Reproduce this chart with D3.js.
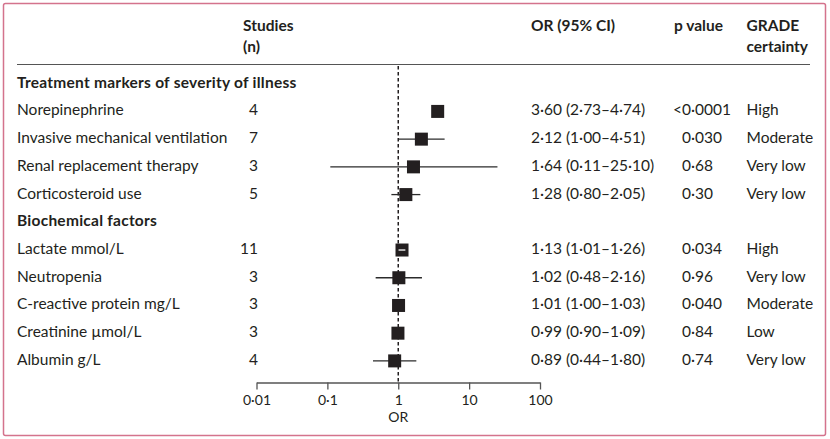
<!DOCTYPE html>
<html>
<head>
<meta charset="utf-8">
<script src="https://cdn.jsdelivr.net/npm/d3@7"></script>
<style>
  body { margin: 0; background: #fff; }
  text { font-family: Lato, "Open Sans", sans-serif; fill: #231f20; }
</style>
</head>
<body>
<svg id="chart" width="830" height="439"></svg>
<script>
// rows of the forest plot (studies null = section header)
var labels = ["Treatment markers of severity of illness", "Norepinephrine", "Invasive mechanical ventilation",
  "Renal replacement therapy", "Corticosteroid use", "Biochemical factors", "Lactate mmol/L", "Neutropenia",
  "C-reactive protein mg/L", "Creatinine µmol/L", "Albumin g/L"];
var studies = [null, 4, 7, 3, 5, null, 11, 3, 3, 3, 4];
var or = [null, 3.60, 2.12, 1.64, 1.28, null, 1.13, 1.02, 1.01, 0.99, 0.89];
var lo = [null, 2.73, 1.00, 0.11, 0.80, null, 1.01, 0.48, 1.00, 0.90, 0.44];
var hi = [null, 4.74, 4.51, 25.10, 2.05, null, 1.26, 2.16, 1.03, 1.09, 1.80];
var orText = [null, "3·60 (2·73–4·74)", "2·12 (1·00–4·51)", "1·64 (0·11–25·10)", "1·28 (0·80–2·05)", null,
  "1·13 (1·01–1·26)", "1·02 (0·48–2·16)", "1·01 (1·00–1·03)", "0·99 (0·90–1·09)", "0·89 (0·44–1·80)"];
var pText = [null, "<0·0001", "0·030", "0·68", "0·30", null, "0·034", "0·96", "0·040", "0·84", "0·74"];
var grade = [null, "High", "Moderate", "Very low", "Very low", null, "High", "Very low", "Moderate", "Low", "Very low"];
var whiteCI = ["Lactate mmol/L"]; // CI drawn in white inside the square
var ticks = [0.01, 0.1, 1, 10, 100];
var tickLabels = ["0·01", "0·1", "1", "10", "100"];

var svg = d3.select("#chart");
var fs = 15.5;

// frame
svg.append("rect").attr("x", 3.5).attr("y", 3.5).attr("width", 822).attr("height", 432)
  .attr("rx", 2).attr("fill", "none").attr("stroke", "#d4738d").attr("stroke-width", 1.5);

var x = d3.scaleLog().domain([0.01, 100]).range([256.5, 540]);
var y = d3.scaleLinear().domain([0, 10]).range([87.7, 364.9]); // baselines

// headers
var head = svg.append("g").attr("font-weight", "bold").attr("font-size", fs);
head.append("text").attr("x", 243).attr("y", 31).text("Studies");
head.append("text").attr("x", 243).attr("y", 52).text("(n)");
head.append("text").attr("x", 531).attr("y", 31).text("OR (95% CI)");
head.append("text").attr("x", 674).attr("y", 31).text("p value");
head.append("text").attr("x", 746.5).attr("y", 31).text("GRADE");
head.append("text").attr("x", 746.5).attr("y", 52).text("certainty");

svg.append("line").attr("x1", 17).attr("x2", 810).attr("y1", 64.5).attr("y2", 64.5)
  .attr("stroke", "#555").attr("stroke-width", 1.2);

// reference line at OR = 1
svg.append("line").attr("x1", x(1)).attr("x2", x(1)).attr("y1", 66).attr("y2", 382.5)
  .attr("stroke", "#231f20").attr("stroke-width", 1.5).attr("stroke-dasharray", "3.5,2.5");

var rows = svg.selectAll("g.row").data(labels).enter().append("g").attr("class", "row")
  .attr("font-size", fs);

rows.append("text").attr("x", 17).attr("y", function (d, i) { return y(i); })
  .attr("font-weight", function (d, i) { return studies[i] == null ? "bold" : null; })
  .attr("letter-spacing", function (d, i) { return studies[i] == null ? 0.25 : null; })
  .text(function (d) { return d; });

var data = d3.range(labels.length).filter(function (i) { return studies[i] != null; });
var sz = 13;

var g = svg.selectAll("g.est").data(data).enter().append("g").attr("class", "est")
  .attr("font-size", fs);

g.append("text").attr("x", 258).attr("y", function (i) { return y(i); }).attr("text-anchor", "end")
  .text(function (i) { return studies[i]; });
g.append("text").attr("x", 531).attr("y", function (i) { return y(i); }).text(function (i) { return orText[i]; });
g.append("text").attr("x", 682).attr("y", function (i) { return y(i); }).text(function (i) { return pText[i]; })
  .each(function (i) {
    if (pText[i].charAt(0) === "<") {
      d3.select(this).attr("x", 682 - this.getSubStringLength(0, 1));
    }
  });
g.append("text").attr("x", 746.5).attr("y", function (i) { return y(i); }).text(function (i) { return grade[i]; });

// CI lines (only where they stick out of the square) and squares
g.filter(function (i) {
    return x(or[i]) - x(lo[i]) > sz / 2 + 2.5 || x(hi[i]) - x(or[i]) > sz / 2 + 2.5;
  }).append("line")
  .attr("x1", function (i) { return x(lo[i]); }).attr("x2", function (i) { return x(hi[i]); })
  .attr("y1", function (i) { return y(i) - 4; }).attr("y2", function (i) { return y(i) - 4; })
  .attr("stroke", "#2b2b2b").attr("stroke-width", 1.3);
g.append("rect").attr("x", function (i) { return x(or[i]) - sz / 2; })
  .attr("y", function (i) { return y(i) - 4 - sz / 2; })
  .attr("width", sz).attr("height", sz).attr("fill", "#231f20");
g.filter(function (i) { return whiteCI.indexOf(labels[i]) >= 0; }).append("line")
  .attr("x1", function (i) { return x(lo[i]); }).attr("x2", function (i) { return x(hi[i]); })
  .attr("y1", function (i) { return y(i) - 4; }).attr("y2", function (i) { return y(i) - 4; })
  .attr("stroke", "#fff").attr("stroke-width", 1.3);

// axis
var axis = svg.append("g").attr("transform", "translate(0,382.5)")
  .call(d3.axisBottom(x).tickValues(ticks).tickSize(7).tickSizeOuter(0)
    .tickFormat(function (d, i) { return tickLabels[i]; }));
axis.select(".domain").attr("stroke", "#555").attr("stroke-width", 1.3);
axis.selectAll(".tick line").attr("stroke", "#555").attr("stroke-width", 1.3);
axis.selectAll(".tick text").attr("font-size", 14).attr("font-family", "Lato, sans-serif")
  .attr("fill", "#231f20").attr("dy", null).attr("y", 22);
svg.append("text").attr("x", x(1)).attr("y", 422).attr("text-anchor", "middle").attr("font-size", 14)
  .text("OR");
</script>
</body>
</html>
